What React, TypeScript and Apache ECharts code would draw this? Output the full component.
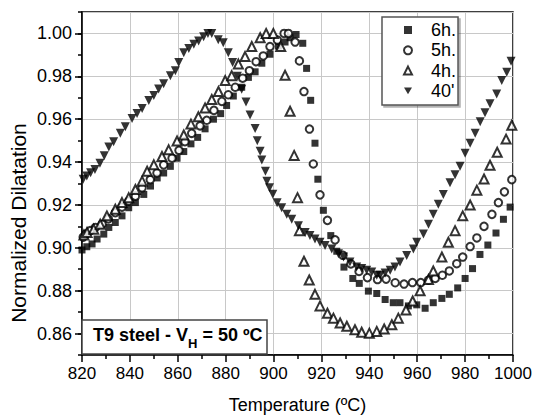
import React, { useEffect, useRef } from "react";
import * as echarts from "echarts";

const FONT = "'Liberation Sans', Arial, Helvetica, sans-serif";

const xTickLabels = ["820", "840", "860", "880", "900", "920", "940", "960", "980", "1000"];
const seriesNames = ["6h.", "5h.", "4h.", "40'"];

const data6h: [number, number][] = [
  [820, 0.899], [822, 0.9005], [824.2, 0.9018], [826.3, 0.9041], [829.1, 0.9064], [831.2, 0.9095],
  [833.9, 0.9118], [836.7, 0.9149], [839.5, 0.9187], [842.3, 0.9211], [845.8, 0.9249], [848.6, 0.9288],
  [851.4, 0.9326], [854.1, 0.9349], [856.9, 0.938], [859.7, 0.9418], [862.5, 0.9449], [865.5, 0.9485],
  [868.3, 0.9515], [871.4, 0.9555], [874.9, 0.96], [877.9, 0.9626], [880.4, 0.9664], [883.2, 0.9708],
  [886.7, 0.9749], [889.5, 0.9795], [892.3, 0.9821], [895.1, 0.9861], [898.5, 0.9903], [902, 0.9941],
  [904.8, 0.996], [906.9, 0.998], [909.4, 0.9995], [912.2, 0.9954], [913.8, 0.9837], [915.5, 0.9688],
  [917.3, 0.9488], [918.5, 0.932], [920.8, 0.9175], [923.9, 0.9057], [926.4, 0.8984], [929.4, 0.891],
  [933.1, 0.8857], [935.8, 0.8834], [939.6, 0.8798], [943.1, 0.8787], [946.6, 0.8759], [950, 0.8744],
  [952.8, 0.8744], [956.3, 0.8729], [959.8, 0.8734], [963.3, 0.8718], [966.7, 0.8744], [970.3, 0.8764],
  [973.4, 0.8783], [976.9, 0.8813], [980, 0.8857], [983.1, 0.8903], [986.2, 0.8969], [989.5, 0.9013],
  [992.9, 0.9069], [996, 0.9133], [998.8, 0.919],
];

const data5h: [number, number][] = [
  [820.5, 0.905], [821.6, 0.9064], [823.5, 0.908], [825.6, 0.9095], [828.4, 0.911], [831, 0.9135],
  [833.9, 0.9164], [836.7, 0.919], [839.5, 0.9218], [842.3, 0.9241], [845.1, 0.928], [848.5, 0.9318],
  [851.3, 0.9349], [854.1, 0.9387], [857.6, 0.9418], [860.5, 0.9455], [863, 0.9495], [865.8, 0.9534],
  [869.3, 0.9569], [872.1, 0.9595], [875.1, 0.9641], [878.4, 0.9683], [881.1, 0.9714], [884, 0.9749],
  [887.1, 0.9791], [889.9, 0.9826], [892.7, 0.9868], [895.7, 0.9895], [898.5, 0.9939], [901.6, 0.9969],
  [904.4, 1.0], [906.2, 1.0], [909, 0.996], [910.8, 0.9872], [912.7, 0.9729], [915, 0.9554],
  [916.6, 0.9391], [919.4, 0.9247], [922.5, 0.9128], [925.7, 0.9037], [929, 0.8965], [932.3, 0.8925],
  [935.7, 0.889], [939.2, 0.8861], [943.4, 0.8852], [947, 0.8854], [950.8, 0.8837], [954.5, 0.8831],
  [958, 0.8838], [961.5, 0.8838], [964.7, 0.8849], [967.5, 0.8857], [970.5, 0.8872], [973.4, 0.8892],
  [976.5, 0.8926], [979, 0.8957], [982.1, 0.9006], [984.9, 0.9046], [987.9, 0.91], [991.2, 0.9156],
  [993.9, 0.9211], [996.4, 0.9261], [999.5, 0.9318],
];

const data4h: [number, number][] = [
  [820.8, 0.906], [822.1, 0.9072], [824.9, 0.9087], [827.6, 0.911], [830.4, 0.9149], [833.9, 0.918],
  [836.7, 0.9211], [839.5, 0.9234], [842.3, 0.9272], [845.1, 0.9311], [847.2, 0.9357], [850, 0.9387],
  [853.4, 0.9426], [856.2, 0.9457], [859.7, 0.9498], [862.5, 0.9526], [865.5, 0.9577], [868.6, 0.9611],
  [871.4, 0.9652], [874.2, 0.9692], [877, 0.9729], [879.8, 0.978], [882.5, 0.9803], [885.3, 0.9857],
  [888.1, 0.9892], [890.9, 0.9939], [894.4, 0.998], [896.9, 1.0], [899.9, 1.0], [903, 0.9939],
  [904.8, 0.9805], [906.9, 0.9637], [908.6, 0.9431], [910, 0.9234], [910.8, 0.908], [912.7, 0.8937],
  [914.9, 0.885], [917.3, 0.8783], [919.4, 0.8729], [922.5, 0.8695], [925, 0.8672], [927.8, 0.8649],
  [930.6, 0.8634], [934, 0.8618], [936.8, 0.8606], [940, 0.8602], [943.1, 0.861], [946.2, 0.8621],
  [949.4, 0.8641], [952.1, 0.8672], [955.3, 0.871], [958.1, 0.8752], [961.2, 0.88], [964.7, 0.8852],
  [966.7, 0.8892], [970.3, 0.8957], [973, 0.9026], [975.8, 0.908], [979, 0.9149], [982.1, 0.92],
  [984.9, 0.9269], [987.9, 0.9321], [990.4, 0.9385], [993.4, 0.9446], [997.1, 0.9507], [999.5, 0.9572],
];

const data40m: [number, number][] = [
  [820.5, 0.932], [822, 0.9335], [823.6, 0.935], [825.4, 0.9365], [827.5, 0.9395], [829.3, 0.943],
  [831.2, 0.947], [833.2, 0.9495], [836, 0.9534], [838.1, 0.9565], [840.9, 0.9603], [843, 0.9626],
  [845.1, 0.965], [847.9, 0.9687], [850, 0.9711], [852, 0.9741], [854.1, 0.9765], [856.9, 0.9803],
  [859, 0.9826], [860.4, 0.9865], [862.5, 0.991], [864.6, 0.993], [866.7, 0.995], [868.7, 0.9965],
  [870.8, 0.9985], [872.6, 1.0], [874.2, 1.0], [876.9, 0.997], [879, 0.9957], [881.1, 0.991],
  [882.9, 0.9865], [884.9, 0.98], [886.7, 0.974], [888.5, 0.968], [890.2, 0.962], [892.3, 0.9557],
  [893.2, 0.95], [894.4, 0.945], [895.1, 0.941], [896.6, 0.9357], [897.2, 0.931], [898.3, 0.928],
  [899.7, 0.925], [901.5, 0.921], [903.4, 0.9187], [905.5, 0.9156], [907.6, 0.9133], [910.4, 0.9103],
  [913.2, 0.9072], [915.2, 0.9057], [917.3, 0.9041], [919.4, 0.9026], [921.5, 0.9011], [924.3, 0.8995],
  [927.1, 0.8972], [929.2, 0.8957], [931.9, 0.8934], [934.7, 0.8911], [936.8, 0.8903], [938.9, 0.8895],
  [941, 0.8887], [943.1, 0.8872], [944.5, 0.8872], [946.6, 0.8883], [948.7, 0.8895], [950.7, 0.8911],
  [952.8, 0.8934], [955.6, 0.8964], [958.4, 0.8995], [959.8, 0.9026], [962.6, 0.9064], [964.7, 0.911],
  [966.7, 0.9156], [968.8, 0.9203], [970.9, 0.9249], [973.7, 0.9303], [975.8, 0.9341], [977.9, 0.938],
  [980, 0.9441], [982.1, 0.9488], [984.2, 0.9534], [986.3, 0.9588], [988.3, 0.963], [990.4, 0.9672],
  [993.2, 0.9718], [995.3, 0.978], [997.4, 0.9819], [999.2, 0.987],
];

const DOWN_TRIANGLE = "path://M0,0L10,0L5,8.66Z";

export default function App() {
  const ref = useRef<HTMLDivElement>(null);

  useEffect(() => {
    if (!ref.current) return;
    const chart = echarts.init(ref.current, undefined, { renderer: "svg" });
    const axisLineStyle = { color: "#000", width: 1.5 };

    const option: any = {
      animation: false,
      backgroundColor: "#fff",
      grid: {
        left: 82,
        right: 28,
        top: 12,
        bottom: 61,
        show: true,
        borderColor: "#000",
        borderWidth: 1.5,
        backgroundColor: "transparent",
      },
      xAxis: {
        type: "value",
        min: 820,
        max: 1000,
        interval: 20,
        name: "Temperature (ºC)",
        nameLocation: "middle",
        nameGap: 41,
        nameTextStyle: { fontSize: 18, fontFamily: FONT, color: "#000" },
        axisLine: { show: true, onZero: false, lineStyle: axisLineStyle },
        axisTick: { show: true, length: 7, lineStyle: axisLineStyle },
        minorTick: { show: true, splitNumber: 2, length: 4, lineStyle: { color: "#000", width: 1.5 } },
        axisLabel: {
          fontSize: 17,
          fontFamily: FONT,
          color: "#000",
          margin: 10,
          formatter: (v: number) => {
            const s = String(Math.round(v));
            return xTickLabels.indexOf(s) >= 0 ? s : "";
          },
        },
        splitLine: { show: true, lineStyle: { color: "#c8c8c8", width: 1 } },
      },
      yAxis: [
        {
          type: "value",
          min: 0.85,
          max: 1.01,
          interval: 0.01,
          axisLine: { show: true, onZero: false, lineStyle: axisLineStyle },
          axisTick: { show: true, length: 4, lineStyle: axisLineStyle },
          axisLabel: { show: false },
          splitLine: { show: false },
        },
        {
          type: "value",
          min: 0.85,
          max: 1.01,
          splitNumber: 8,
          position: "left",
          axisLine: { show: false, onZero: false },
          axisTick: { show: true, length: 7, lineStyle: axisLineStyle },
          axisLabel: {
            fontSize: 18,
            fontFamily: FONT,
            color: "#000",
            margin: 10,
            showMinLabel: false,
            showMaxLabel: false,
            formatter: (v: number) => (v < 0.855 || v > 1.005 ? "" : v.toFixed(2)),
          },
          splitLine: { show: true, lineStyle: { color: "#c8c8c8", width: 1 } },
        },
      ],
      legend: {
        data: [
          { name: seriesNames[0], icon: "rect" },
          { name: seriesNames[1], icon: "emptyCircle" },
          { name: seriesNames[2], icon: "emptyTriangle" },
          { name: seriesNames[3], icon: DOWN_TRIANGLE },
        ],
        orient: "vertical",
        left: 382,
        top: 17,
        itemWidth: 8,
        itemHeight: 8,
        itemGap: 0.3,
        padding: [3, 2, 4, 21],
        backgroundColor: "#fff",
        borderColor: "#555",
        borderWidth: 1.5,
        shadowColor: "rgba(0,0,0,0.3)",
        shadowOffsetX: 2,
        shadowOffsetY: 2,
        shadowBlur: 0,
        selectedMode: false,
        formatter: (name: string) => "{t|" + name + "}",
        textStyle: {
          fontSize: 18,
          fontFamily: FONT,
          color: "#000",
          lineHeight: 20,
          rich: {
            t: { fontSize: 18, fontFamily: FONT, color: "#000", lineHeight: 20, padding: [0, 0, 0, 14] },
          },
        },
        z: 20,
      },
      series: [
        {
          name: seriesNames[0],
          type: "scatter",
          data: data6h,
          symbol: "rect",
          symbolSize: 7,
          itemStyle: { color: "#000" },
          z: 2,
        },
        {
          name: seriesNames[1],
          type: "scatter",
          data: data5h,
          symbol: "emptyCircle",
          symbolSize: 7.5,
          itemStyle: { color: "#000", borderColor: "#000", borderWidth: 1 },
          z: 3,
        },
        {
          name: seriesNames[2],
          type: "scatter",
          data: data4h,
          symbol: "emptyTriangle",
          symbolSize: 9,
          itemStyle: { color: "#000", borderColor: "#000", borderWidth: 1.1 },
          z: 4,
        },
        {
          name: seriesNames[3],
          type: "scatter",
          data: data40m,
          symbol: "triangle",
          symbolRotate: 180,
          symbolSize: 9,
          itemStyle: { color: "#000" },
          z: 5,
        },
      ],
      graphic: [
        {
          type: "text",
          x: 18,
          y: 223,
          rotation: Math.PI / 2,
          style: {
            text: "Normalized Dilatation",
            fontSize: 21,
            fontFamily: FONT,
            fill: "#000",
            align: "center",
            verticalAlign: "middle",
          },
        },
        {
          type: "rect",
          shape: { x: 82, y: 320, width: 185, height: 34 },
          style: { fill: "#fff", stroke: "#444", lineWidth: 1.5 },
          z: 100,
        },
        {
          type: "text",
          x: 93,
          y: 335,
          z: 101,
          style: {
            text: "{a|T9 steel - V}{s|H}{a| = 50 ºC}",
            align: "left",
            verticalAlign: "middle",
            rich: {
              a: { fontSize: 18, fontWeight: "bold", fontFamily: FONT, fill: "#000", lineHeight: 20 },
              s: {
                fontSize: 13,
                fontWeight: "bold",
                fontFamily: FONT,
                fill: "#000",
                lineHeight: 13,
                padding: [17, 0, 0, 0],
              },
            },
          },
        },
      ],
    };

    chart.setOption(option);
    return () => chart.dispose();
  }, []);

  return (
    <div
      ref={ref}
      style={{ position: "absolute", left: 0, top: 0, width: 541, height: 419 }}
    />
  );
}
